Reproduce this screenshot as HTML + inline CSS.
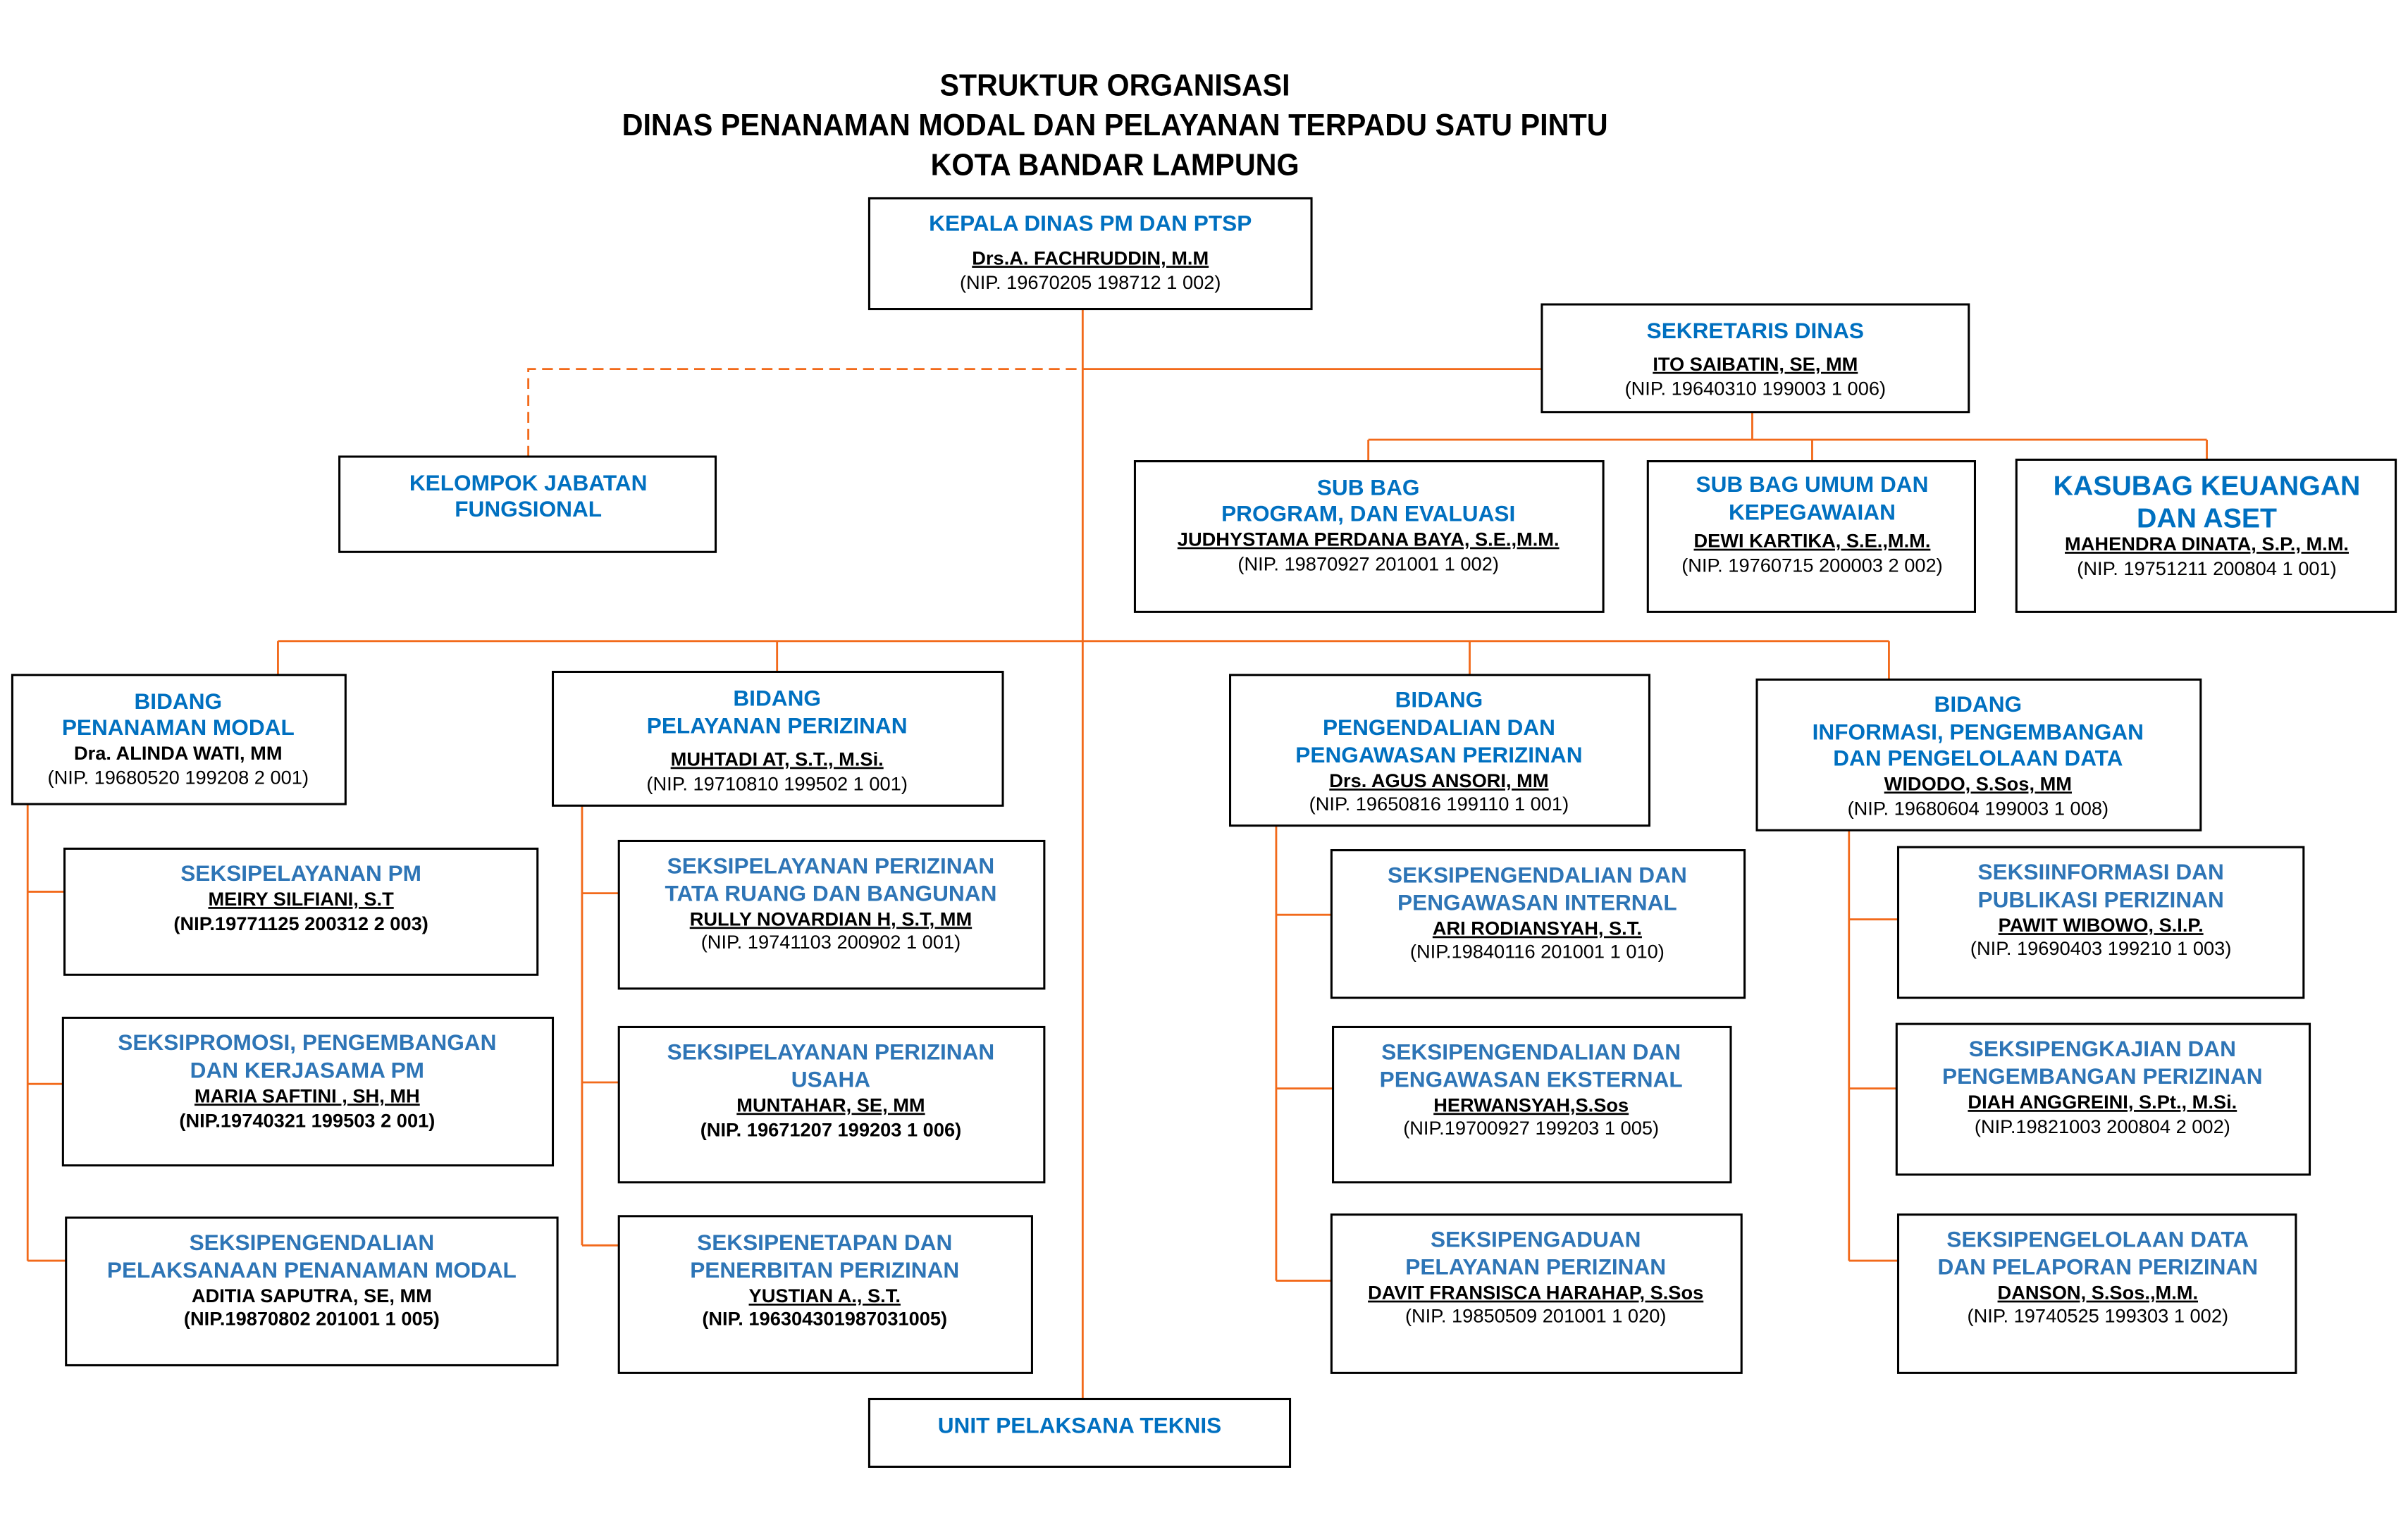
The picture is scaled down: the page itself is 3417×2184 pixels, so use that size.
<!DOCTYPE html>
<html><head><meta charset="utf-8"><style>
html,body{margin:0;padding:0;background:#fff;}
svg{display:block;}
text{font-family:"Liberation Sans",Arial,sans-serif;text-anchor:middle;}
.t{font-weight:bold;font-size:20px;fill:#000;}
.b{font-weight:bold;font-size:14.5px;fill:#0070C0;}
.s{font-weight:bold;font-size:14.5px;fill:#2E75B6;}
.n{font-weight:bold;font-size:12.5px;fill:#000;}
.u{text-decoration:underline;}
.p{font-size:12.5px;fill:#000;}
.pb{font-size:12.5px;fill:#000;font-weight:bold;}
rect{fill:#fff;stroke:#000;stroke-width:1.4;}
.o{stroke:#F26A1B;stroke-width:1.3;fill:none;}
</style></head><body>
<svg width="3417" height="2184" viewBox="0 0 1568 1001" preserveAspectRatio="none" xmlns="http://www.w3.org/2000/svg">
<text class="t" x="726" y="62" textLength="228" lengthAdjust="spacingAndGlyphs">STRUKTUR ORGANISASI</text>
<text class="t" x="726" y="88" textLength="642" lengthAdjust="spacingAndGlyphs">DINAS PENANAMAN MODAL DAN PELAYANAN TERPADU SATU PINTU</text>
<text class="t" x="726" y="114" textLength="240" lengthAdjust="spacingAndGlyphs">KOTA BANDAR LAMPUNG</text>

<path class="o" d="M705 201 V910"/>
<path class="o" d="M344 297 V240 H705" stroke-dasharray="7,4"/>
<path class="o" d="M705 240 H1004"/>
<path class="o" d="M1141 268 V286 M891 286 H1437 M891 286 V300 M1180 286 V300 M1437 286 V299"/>
<path class="o" d="M181 417 H1230 M181 417 V439 M506 417 V437 M957 417 V439 M1230 417 V442"/>
<path class="o" d="M18 523 V820 M18 580 H42 M18 705 H41 M18 820 H43"/>
<path class="o" d="M379 524 V810 M379 581 H403 M379 704 H403 M379 810 H403"/>
<path class="o" d="M831 537 V833 M831 595 H867 M831 708 H868 M831 833 H867"/>
<path class="o" d="M1204 540 V820 M1204 598 H1236 M1204 708 H1235 M1204 820 H1236"/>

<rect x="566" y="129" width="288" height="72"/>
<text class="b" x="710" y="150">KEPALA DINAS PM DAN PTSP</text>
<text class="n u" x="710" y="172">Drs.A. FACHRUDDIN, M.M</text>
<text class="p" x="710" y="188">(NIP. 19670205  198712 1 002)</text>

<rect x="1004" y="198" width="278" height="70"/>
<text class="b" x="1143" y="220">SEKRETARIS DINAS</text>
<text class="n u" x="1143" y="241">ITO SAIBATIN, SE, MM</text>
<text class="p" x="1143" y="257">(NIP. 19640310 199003 1 006)</text>

<rect x="221" y="297" width="245" height="62"/>
<text class="b" x="344" y="319">KELOMPOK JABATAN</text>
<text class="b" x="344" y="336">FUNGSIONAL</text>

<rect x="739" y="300" width="305" height="98"/>
<text class="b" x="891" y="322">SUB BAG</text>
<text class="b" x="891" y="339">PROGRAM, DAN EVALUASI</text>
<text class="n u" x="891" y="355">JUDHYSTAMA PERDANA BAYA, S.E.,M.M.</text>
<text class="p" x="891" y="371">(NIP. 19870927 201001 1 002)</text>

<rect x="1073" y="300" width="213" height="98"/>
<text class="b" x="1180" y="320">SUB BAG UMUM DAN</text>
<text class="b" x="1180" y="338">KEPEGAWAIAN</text>
<text class="n u" x="1180" y="356">DEWI KARTIKA, S.E.,M.M.</text>
<text class="p" x="1180" y="372">(NIP. 19760715 200003 2 002)</text>

<rect x="1313" y="299" width="247" height="99"/>
<text class="b" x="1437" y="322" style="font-size:18px">KASUBAG KEUANGAN</text>
<text class="b" x="1437" y="343" style="font-size:18px">DAN ASET</text>
<text class="n u" x="1437" y="358">MAHENDRA DINATA, S.P., M.M.</text>
<text class="p" x="1437" y="374">(NIP. 19751211 200804 1 001)</text>

<rect x="8" y="439" width="217" height="84"/>
<text class="b" x="116" y="461">BIDANG</text>
<text class="b" x="116" y="478">PENANAMAN MODAL</text>
<text class="n" x="116" y="494">Dra. ALINDA WATI, MM</text>
<text class="p" x="116" y="510">(NIP. 19680520 199208 2 001)</text>

<rect x="360" y="437" width="293" height="87"/>
<text class="b" x="506" y="459">BIDANG</text>
<text class="b" x="506" y="477">PELAYANAN PERIZINAN</text>
<text class="n u" x="506" y="498">MUHTADI AT, S.T., M.Si.</text>
<text class="p" x="506" y="514">(NIP. 19710810 199502 1 001)</text>

<rect x="801" y="439" width="273" height="98"/>
<text class="b" x="937" y="460">BIDANG</text>
<text class="b" x="937" y="478">PENGENDALIAN DAN</text>
<text class="b" x="937" y="496">PENGAWASAN PERIZINAN</text>
<text class="n u" x="937" y="512">Drs. AGUS ANSORI, MM</text>
<text class="p" x="937" y="527">(NIP. 19650816 199110 1 001)</text>

<rect x="1144" y="442" width="289" height="98"/>
<text class="b" x="1288" y="463">BIDANG</text>
<text class="b" x="1288" y="481">INFORMASI, PENGEMBANGAN</text>
<text class="b" x="1288" y="498">DAN PENGELOLAAN DATA</text>
<text class="n u" x="1288" y="514">WIDODO, S.Sos, MM</text>
<text class="p" x="1288" y="530">(NIP. 19680604 199003 1 008)</text>

<rect x="42" y="552" width="308" height="82"/>
<text class="s" x="196" y="573">SEKSIPELAYANAN PM</text>
<text class="n u" x="196" y="589">MEIRY SILFIANI, S.T</text>
<text class="pb" x="196" y="605">(NIP.19771125 200312 2 003)</text>

<rect x="41" y="662" width="319" height="96"/>
<text class="s" x="200" y="683">SEKSIPROMOSI, PENGEMBANGAN</text>
<text class="s" x="200" y="701">DAN KERJASAMA PM</text>
<text class="n u" x="200" y="717">MARIA SAFTINI , SH, MH</text>
<text class="pb" x="200" y="733">(NIP.19740321 199503 2 001)</text>

<rect x="43" y="792" width="320" height="96"/>
<text class="s" x="203" y="813">SEKSIPENGENDALIAN</text>
<text class="s" x="203" y="831">PELAKSANAAN PENANAMAN MODAL</text>
<text class="n" x="203" y="847">ADITIA SAPUTRA, SE, MM</text>
<text class="pb" x="203" y="862">(NIP.19870802 201001 1 005)</text>

<rect x="403" y="547" width="277" height="96"/>
<text class="s" x="541" y="568">SEKSIPELAYANAN PERIZINAN</text>
<text class="s" x="541" y="586">TATA RUANG DAN BANGUNAN</text>
<text class="n u" x="541" y="602">RULLY NOVARDIAN H, S.T, MM</text>
<text class="p" x="541" y="617">(NIP. 19741103 200902 1 001)</text>

<rect x="403" y="668" width="277" height="101"/>
<text class="s" x="541" y="689">SEKSIPELAYANAN PERIZINAN</text>
<text class="s" x="541" y="707">USAHA</text>
<text class="n u" x="541" y="723">MUNTAHAR, SE, MM</text>
<text class="pb" x="541" y="739">(NIP. 19671207 199203 1 006)</text>

<rect x="403" y="791" width="269" height="102"/>
<text class="s" x="537" y="813">SEKSIPENETAPAN DAN</text>
<text class="s" x="537" y="831">PENERBITAN PERIZINAN</text>
<text class="n u" x="537" y="847">YUSTIAN A., S.T.</text>
<text class="pb" x="537" y="862">(NIP. 196304301987031005)</text>

<rect x="867" y="553" width="269" height="96"/>
<text class="s" x="1001" y="574">SEKSIPENGENDALIAN DAN</text>
<text class="s" x="1001" y="592">PENGAWASAN INTERNAL</text>
<text class="n u" x="1001" y="608">ARI RODIANSYAH, S.T.</text>
<text class="p" x="1001" y="623">(NIP.19840116 201001 1 010)</text>

<rect x="868" y="668" width="259" height="101"/>
<text class="s" x="997" y="689">SEKSIPENGENDALIAN DAN</text>
<text class="s" x="997" y="707">PENGAWASAN EKSTERNAL</text>
<text class="n u" x="997" y="723">HERWANSYAH,S.Sos</text>
<text class="p" x="997" y="738">(NIP.19700927 199203 1 005)</text>

<rect x="867" y="790" width="267" height="103"/>
<text class="s" x="1000" y="811">SEKSIPENGADUAN</text>
<text class="s" x="1000" y="829">PELAYANAN PERIZINAN</text>
<text class="n u" x="1000" y="845">DAVIT FRANSISCA HARAHAP, S.Sos</text>
<text class="p" x="1000" y="860">(NIP. 19850509 201001 1 020)</text>

<rect x="1236" y="551" width="264" height="98"/>
<text class="s" x="1368" y="572">SEKSIINFORMASI DAN</text>
<text class="s" x="1368" y="590">PUBLIKASI PERIZINAN</text>
<text class="n u" x="1368" y="606">PAWIT WIBOWO, S.I.P.</text>
<text class="p" x="1368" y="621">(NIP. 19690403 199210 1 003)</text>

<rect x="1235" y="666" width="269" height="98"/>
<text class="s" x="1369" y="687">SEKSIPENGKAJIAN DAN</text>
<text class="s" x="1369" y="705">PENGEMBANGAN PERIZINAN</text>
<text class="n u" x="1369" y="721">DIAH ANGGREINI, S.Pt., M.Si.</text>
<text class="p" x="1369" y="737">(NIP.19821003 200804 2 002)</text>

<rect x="1236" y="790" width="259" height="103"/>
<text class="s" x="1366" y="811">SEKSIPENGELOLAAN DATA</text>
<text class="s" x="1366" y="829">DAN PELAPORAN PERIZINAN</text>
<text class="n u" x="1366" y="845">DANSON, S.Sos.,M.M.</text>
<text class="p" x="1366" y="860">(NIP. 19740525 199303 1 002)</text>

<rect x="566" y="910" width="274" height="44"/>
<text class="b" x="703" y="932">UNIT PELAKSANA TEKNIS</text>
</svg>
</body></html>
